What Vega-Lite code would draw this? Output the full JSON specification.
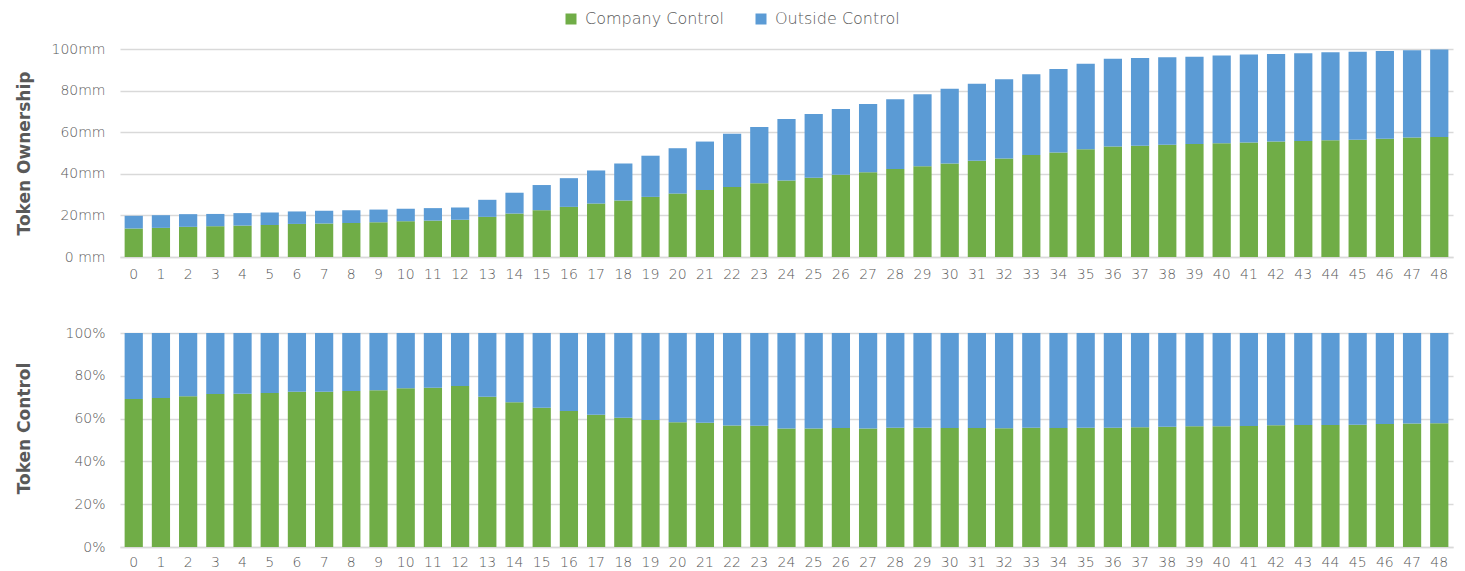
{
  "$schema": "https://vega.github.io/schema/vega-lite/v6.json",
  "autosize": {"type": "pad"},
  "padding": {"left": 15, "top": 11, "right": 10, "bottom": 0},
  "background": "white",
  "bounds": "flush",
  "spacing": 76,
  "config": {
    "view": {"stroke": null},
    "font": "DejaVu Sans",
    "axis": {
      "labelColor": "#595959",
      "labelFontSize": 14,
      "labelFont": "DejaVu Sans",
      "labelFontWeight": 200,
      "domainColor": "#d9d9d9",
      "domainWidth": 1.5,
      "gridColor": "#d9d9d9",
      "gridWidth": 1.5,
      "ticks": false,
      "titleColor": "#595959",
      "titleFont": "DejaVu Sans",
      "titleFontSize": 17,
      "titleFontWeight": "bold"
    },
    "legend": {"labelFont": "DejaVu Sans", "labelFontWeight": 200}
  },
  "data": {
    "values": [
      {"step": 0, "series": "Company Control", "value": 13.7}, {"step": 0, "series": "Outside Control", "value": 6.1},
      {"step": 1, "series": "Company Control", "value": 14.0}, {"step": 1, "series": "Outside Control", "value": 6.1},
      {"step": 2, "series": "Company Control", "value": 14.5}, {"step": 2, "series": "Outside Control", "value": 6.1},
      {"step": 3, "series": "Company Control", "value": 14.8}, {"step": 3, "series": "Outside Control", "value": 5.9},
      {"step": 4, "series": "Company Control", "value": 15.1}, {"step": 4, "series": "Outside Control", "value": 6.0},
      {"step": 5, "series": "Company Control", "value": 15.4}, {"step": 5, "series": "Outside Control", "value": 6.0},
      {"step": 6, "series": "Company Control", "value": 15.9}, {"step": 6, "series": "Outside Control", "value": 6.0},
      {"step": 7, "series": "Company Control", "value": 16.1}, {"step": 7, "series": "Outside Control", "value": 6.1},
      {"step": 8, "series": "Company Control", "value": 16.4}, {"step": 8, "series": "Outside Control", "value": 6.1},
      {"step": 9, "series": "Company Control", "value": 16.7}, {"step": 9, "series": "Outside Control", "value": 6.1},
      {"step": 10, "series": "Company Control", "value": 17.2}, {"step": 10, "series": "Outside Control", "value": 6.0},
      {"step": 11, "series": "Company Control", "value": 17.5}, {"step": 11, "series": "Outside Control", "value": 6.0},
      {"step": 12, "series": "Company Control", "value": 17.9}, {"step": 12, "series": "Outside Control", "value": 5.9},
      {"step": 13, "series": "Company Control", "value": 19.3}, {"step": 13, "series": "Outside Control", "value": 8.2},
      {"step": 14, "series": "Company Control", "value": 20.9}, {"step": 14, "series": "Outside Control", "value": 10.0},
      {"step": 15, "series": "Company Control", "value": 22.5}, {"step": 15, "series": "Outside Control", "value": 12.1},
      {"step": 16, "series": "Company Control", "value": 24.1}, {"step": 16, "series": "Outside Control", "value": 13.8},
      {"step": 17, "series": "Company Control", "value": 25.7}, {"step": 17, "series": "Outside Control", "value": 15.9},
      {"step": 18, "series": "Company Control", "value": 27.2}, {"step": 18, "series": "Outside Control", "value": 17.8},
      {"step": 19, "series": "Company Control", "value": 28.9}, {"step": 19, "series": "Outside Control", "value": 19.8},
      {"step": 20, "series": "Company Control", "value": 30.5}, {"step": 20, "series": "Outside Control", "value": 21.8},
      {"step": 21, "series": "Company Control", "value": 32.2}, {"step": 21, "series": "Outside Control", "value": 23.3},
      {"step": 22, "series": "Company Control", "value": 33.6}, {"step": 22, "series": "Outside Control", "value": 25.6},
      {"step": 23, "series": "Company Control", "value": 35.4}, {"step": 23, "series": "Outside Control", "value": 27.1},
      {"step": 24, "series": "Company Control", "value": 36.8}, {"step": 24, "series": "Outside Control", "value": 29.6},
      {"step": 25, "series": "Company Control", "value": 38.1}, {"step": 25, "series": "Outside Control", "value": 30.7},
      {"step": 26, "series": "Company Control", "value": 39.5}, {"step": 26, "series": "Outside Control", "value": 31.6},
      {"step": 27, "series": "Company Control", "value": 40.7}, {"step": 27, "series": "Outside Control", "value": 32.8},
      {"step": 28, "series": "Company Control", "value": 42.3}, {"step": 28, "series": "Outside Control", "value": 33.6},
      {"step": 29, "series": "Company Control", "value": 43.6}, {"step": 29, "series": "Outside Control", "value": 34.7},
      {"step": 30, "series": "Company Control", "value": 45.0}, {"step": 30, "series": "Outside Control", "value": 35.9},
      {"step": 31, "series": "Company Control", "value": 46.3}, {"step": 31, "series": "Outside Control", "value": 37.0},
      {"step": 32, "series": "Company Control", "value": 47.4}, {"step": 32, "series": "Outside Control", "value": 38.1},
      {"step": 33, "series": "Company Control", "value": 49.0}, {"step": 33, "series": "Outside Control", "value": 38.9},
      {"step": 34, "series": "Company Control", "value": 50.3}, {"step": 34, "series": "Outside Control", "value": 40.1},
      {"step": 35, "series": "Company Control", "value": 51.8}, {"step": 35, "series": "Outside Control", "value": 41.1},
      {"step": 36, "series": "Company Control", "value": 53.1}, {"step": 36, "series": "Outside Control", "value": 42.2},
      {"step": 37, "series": "Company Control", "value": 53.5}, {"step": 37, "series": "Outside Control", "value": 42.2},
      {"step": 38, "series": "Company Control", "value": 54.0}, {"step": 38, "series": "Outside Control", "value": 42.0},
      {"step": 39, "series": "Company Control", "value": 54.3}, {"step": 39, "series": "Outside Control", "value": 42.0},
      {"step": 40, "series": "Company Control", "value": 54.7}, {"step": 40, "series": "Outside Control", "value": 42.2},
      {"step": 41, "series": "Company Control", "value": 55.0}, {"step": 41, "series": "Outside Control", "value": 42.3},
      {"step": 42, "series": "Company Control", "value": 55.5}, {"step": 42, "series": "Outside Control", "value": 42.1},
      {"step": 43, "series": "Company Control", "value": 55.8}, {"step": 43, "series": "Outside Control", "value": 42.1},
      {"step": 44, "series": "Company Control", "value": 56.1}, {"step": 44, "series": "Outside Control", "value": 42.3},
      {"step": 45, "series": "Company Control", "value": 56.4}, {"step": 45, "series": "Outside Control", "value": 42.3},
      {"step": 46, "series": "Company Control", "value": 56.9}, {"step": 46, "series": "Outside Control", "value": 42.1},
      {"step": 47, "series": "Company Control", "value": 57.4}, {"step": 47, "series": "Outside Control", "value": 42.0},
      {"step": 48, "series": "Company Control", "value": 57.7}, {"step": 48, "series": "Outside Control", "value": 42.1}
    ]
  },
  "vconcat": [
    {
      "width": 1333,
      "height": 208,
      "mark": {"type": "bar"},
      "encoding": {
        "x": {
          "field": "step", "type": "ordinal",
          "scale": {"paddingInner": 0.33, "paddingOuter": 0.17},
          "axis": {"title": null, "labelAngle": 0, "labelPadding": 10, "grid": false}
        },
        "y": {
          "field": "value", "type": "quantitative", "stack": "zero",
          "scale": {"domain": [0, 100], "nice": false},
          "axis": {
            "title": "Token Ownership",
            "values": [0, 20, 40, 60, 80, 100],
            "labelExpr": "datum.value == 0 ? '0 mm' : datum.value + 'mm'",
            "labelPadding": 15, "minExtent": 80, "maxExtent": 80, "titlePadding": 7,
            "domain": false
          }
        },
        "order": {"field": "series", "sort": "ascending"},
        "color": {
          "field": "series", "type": "nominal",
          "scale": {"domain": ["Company Control", "Outside Control"], "range": ["#70AD47", "#5B9BD5"]},
          "legend": {
            "title": null, "orient": "none", "legendX": 443, "legendY": -38,
            "direction": "horizontal", "symbolType": "square", "symbolSize": 121,
            "symbolStrokeWidth": 0, "labelFontSize": 16, "labelColor": "#595959",
            "columnPadding": 28, "labelOffset": 6
          }
        }
      }
    },
    {
      "width": 1333,
      "height": 214,
      "mark": {"type": "bar"},
      "encoding": {
        "x": {
          "field": "step", "type": "ordinal",
          "scale": {"paddingInner": 0.33, "paddingOuter": 0.17},
          "axis": {"title": null, "labelAngle": 0, "labelPadding": 8, "grid": false}
        },
        "y": {
          "field": "value", "type": "quantitative", "stack": "normalize",
          "axis": {
            "title": "Token Control",
            "values": [0, 0.2, 0.4, 0.6, 0.8, 1],
            "format": ".0%",
            "labelPadding": 15, "minExtent": 80, "maxExtent": 80, "titlePadding": 7,
            "titleY": 95,
            "domain": false
          }
        },
        "order": {"field": "series", "sort": "ascending"},
        "color": {
          "field": "series", "type": "nominal",
          "scale": {"domain": ["Company Control", "Outside Control"], "range": ["#70AD47", "#5B9BD5"]}
        }
      }
    }
  ]
}
